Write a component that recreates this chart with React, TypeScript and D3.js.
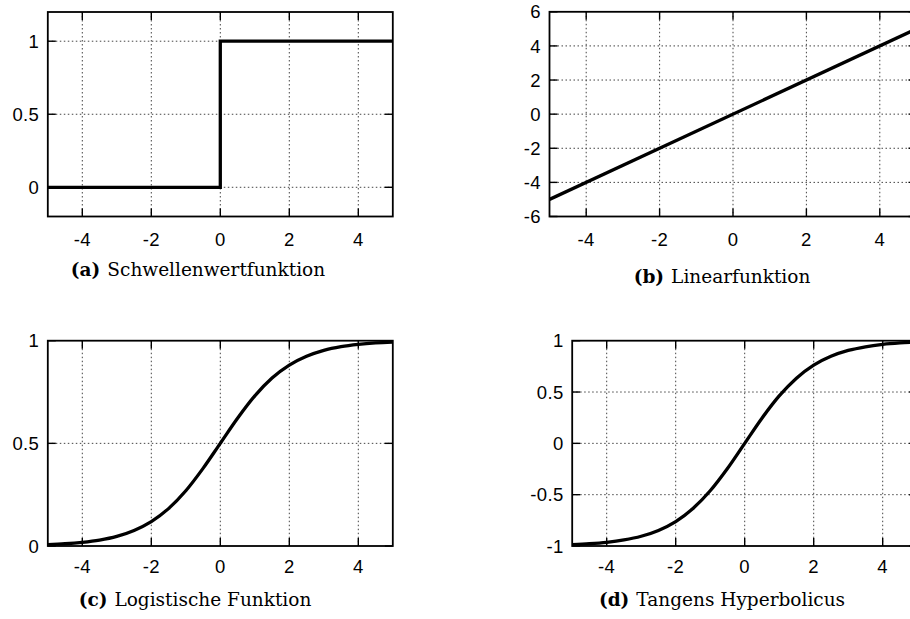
import React from "react";
import { scaleLinear, line, curveLinear, curveStepAfter, curveMonotoneX } from "d3";

// tick values shared by every panel
const xTicks = [-4, -2, 0, 2, 4];

// (a) threshold
const stepX = [-5, 0, 5];
const stepY = [0, 1, 1];

// (b) linear
const linearX = [-5, 5];
const linearY = [-5, 5];

// (c) + (d) sampled every 0.5
const sigX = [-5, -4.5, -4, -3.5, -3, -2.5, -2, -1.5, -1, -0.5, 0, 0.5, 1, 1.5, 2, 2.5, 3, 3.5, 4, 4.5, 5];
const logisticY = [
  0.007, 0.011, 0.018, 0.029, 0.047, 0.076, 0.119, 0.182, 0.269, 0.378, 0.5,
  0.622, 0.731, 0.818, 0.881, 0.924, 0.953, 0.971, 0.982, 0.989, 0.993,
];
const tanhY = [
  -0.987, -0.978, -0.964, -0.941, -0.905, -0.848, -0.762, -0.635, -0.462, -0.245, 0,
  0.245, 0.462, 0.635, 0.762, 0.848, 0.905, 0.941, 0.964, 0.978, 0.987,
];

const panels = [
  {
    key: "a", xs: stepX, ys: stepY, curve: curveStepAfter,
    left: 47.8, right: 392.8, top: 12, bottom: 216.5,
    yDomain: [-0.2, 1.2], yTicks: [0, 0.5, 1],
    label: "(a)", caption: "Schwellenwertfunktion", capX: 198, capY: 276, xLabY: 246,
  },
  {
    key: "b", xs: linearX, ys: linearY, curve: curveLinear,
    left: 549.5, right: 916.5, top: 11.8, bottom: 216.5,
    yDomain: [-6, 6], yTicks: [-6, -4, -2, 0, 2, 4, 6],
    label: "(b)", caption: "Linearfunktion", capX: 722, capY: 283, xLabY: 246,
  },
  {
    key: "c", xs: sigX, ys: logisticY, curve: curveMonotoneX,
    left: 47.8, right: 392.8, top: 340.7, bottom: 546,
    yDomain: [0, 1], yTicks: [0, 0.5, 1],
    label: "(c)", caption: "Logistische Funktion", capX: 195, capY: 606, xLabY: 573,
  },
  {
    key: "d", xs: sigX, ys: tanhY, curve: curveMonotoneX,
    left: 572.2, right: 917.2, top: 340.7, bottom: 546,
    yDomain: [-1, 1], yTicks: [-1, -0.5, 0, 0.5, 1],
    label: "(d)", caption: "Tangens Hyperbolicus", capX: 722, capY: 606, xLabY: 573,
  },
];

const tickFont = "'Liberation Sans', Arial, sans-serif";
const capFont = "'DejaVu Serif', serif";

function Panel({ p }: { p: (typeof panels)[number] }) {
  const x = scaleLinear().domain([-5, 5]).range([p.left, p.right]);
  const y = scaleLinear().domain(p.yDomain).range([p.bottom, p.top]);
  const pts = p.xs.map((v, i) => [v, p.ys[i]] as [number, number]);
  const path = line<[number, number]>()
    .x((d) => x(d[0]))
    .y((d) => y(d[1]))
    .curve(p.curve)(pts);
  const tl = 8;
  const w = p.right - p.left;
  const h = p.bottom - p.top;
  return (
    <g>
      <clipPath id={`clip-${p.key}`}>
        <rect x={p.left} y={p.top} width={w} height={h} />
      </clipPath>
      {/* grid */}
      <g stroke="#444" strokeWidth={1} strokeDasharray="1.5,2.5">
        {xTicks.map((t) => (
          <line key={`gx${t}`} x1={x(t)} x2={x(t)} y1={p.top} y2={p.bottom} />
        ))}
        {p.yTicks
          .filter((t) => t !== p.yDomain[0] && t !== p.yDomain[1])
          .map((t) => (
            <line key={`gy${t}`} x1={p.left} x2={p.right} y1={y(t)} y2={y(t)} />
          ))}
      </g>
      {/* ticks, mirrored */}
      <g stroke="#000" strokeWidth={1.4}>
        {xTicks.map((t) => (
          <g key={`tx${t}`}>
            <line x1={x(t)} x2={x(t)} y1={p.bottom} y2={p.bottom - tl} />
            <line x1={x(t)} x2={x(t)} y1={p.top} y2={p.top + tl} />
          </g>
        ))}
        {p.yTicks.map((t) => (
          <g key={`ty${t}`}>
            <line x1={p.left} x2={p.left + tl} y1={y(t)} y2={y(t)} />
            <line x1={p.right} x2={p.right - tl} y1={y(t)} y2={y(t)} />
          </g>
        ))}
      </g>
      <path
        d={path ?? ""}
        fill="none"
        stroke="#000"
        strokeWidth={3.3}
        strokeLinejoin="miter"
        clipPath={`url(#clip-${p.key})`}
      />
      <rect x={p.left} y={p.top} width={w} height={h} fill="none" stroke="#000" strokeWidth={1.8} />
      {/* labels */}
      <g fontFamily={tickFont} fontSize={18.5} letterSpacing={0.4} fill="#000">
        {xTicks.map((t) => (
          <text key={`lx${t}`} x={x(t)} y={p.xLabY} textAnchor="middle">
            {String(t)}
          </text>
        ))}
        {p.yTicks.map((t) => (
          <text key={`ly${t}`} x={p.left - 8.5} y={y(t)} dy="0.36em" textAnchor="end">
            {String(t)}
          </text>
        ))}
      </g>
      <text x={p.capX} y={p.capY} textAnchor="middle" fontFamily={capFont} fontSize={18.5} fill="#000">
        <tspan fontWeight="bold">{p.label}</tspan>
        <tspan dx={7}>{p.caption}</tspan>
      </text>
    </g>
  );
}

export default function App() {
  return (
    <svg
      width={910}
      height={619}
      style={{ position: "absolute", left: 0, top: 0, background: "#fff" }}
    >
      <rect width={910} height={619} fill="#fff" />
      {panels.map((p) => (
        <Panel key={p.key} p={p} />
      ))}
    </svg>
  );
}
